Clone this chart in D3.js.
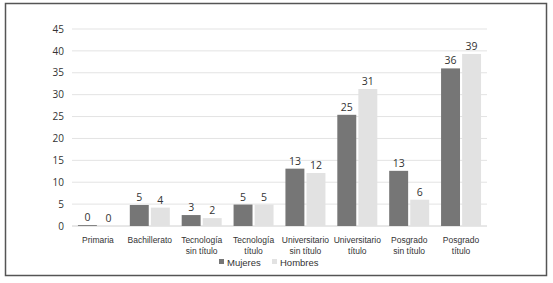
<!DOCTYPE html>
<html><head><meta charset="utf-8">
<script src="https://cdn.jsdelivr.net/npm/d3@7"></script>
<style>body{margin:0;background:#fff}</style>
</head><body>
<svg id="c" width="553" height="283"></svg>
<script>
const categories = [["Primaria"],["Bachillerato"],["Tecnología","sin título"],["Tecnología","título"],["Universitario","sin título"],["Universitario","título"],["Posgrado","sin título"],["Posgrado","título"]];
const mujeres = [0.2, 4.8, 2.5, 4.9, 13.1, 25.4, 12.6, 36.0];
const hombres = [0.0, 4.2, 1.8, 4.9, 12.1, 31.3, 6.0, 39.3];
const mujeresLabels = ["0","5","3","5","13","25","13","36"];
const hombresLabels = ["0","4","2","5","12","31","6","39"];
const yTicks = [0,5,10,15,20,25,30,35,40,45];
const seriesNames = ["Mujeres","Hombres"];
const colors = ["#767676","#e2e2e2"];

const svg = d3.select("#c");
svg.append("rect").attr("x",5.5).attr("y",3.5).attr("width",541).attr("height",272)
  .attr("fill","#fff").attr("stroke","#555").attr("stroke-width",1.5);

const x = d3.scaleBand().domain(d3.range(categories.length)).range([72,487]);
const y = d3.scaleLinear().domain([0,45]).range([226,29]);
const sub = d3.scaleBand().domain([0,1]).range([-20,20]).paddingInner(0.1);

svg.append("g").selectAll("line").data(yTicks).join("line")
  .attr("x1",72).attr("x2",487).attr("y1",d=>y(d)).attr("y2",d=>y(d))
  .attr("stroke",d=>d===0?"#d0d0d0":"#e3e3e3").attr("stroke-width",1);

const yAxis = d3.axisLeft(y).tickValues(yTicks).tickSize(0).tickPadding(8);
const ga = svg.append("g").attr("transform","translate(72,0)").call(yAxis);
ga.select(".domain").remove();
ga.selectAll("text").attr("font-family","Open Sans, sans-serif").attr("font-size",10).attr("fill","#333");

const series = [mujeres, hombres];
const labels = [mujeresLabels, hombresLabels];
series.forEach((vals,s)=>{
  const g = svg.append("g");
  g.selectAll("rect").data(vals).join("rect")
    .attr("x",(d,i)=>x(i)+x.bandwidth()/2+sub(s))
    .attr("width",sub.bandwidth())
    .attr("y",d=>y(d)).attr("height",d=>y(0)-y(d))
    .attr("fill",colors[s]);
  g.selectAll("text").data(vals).join("text")
    .attr("x",(d,i)=>x(i)+x.bandwidth()/2+sub(s)+sub.bandwidth()/2)
    .attr("y",d=>y(d)-4)
    .attr("text-anchor","middle")
    .attr("font-family","Open Sans, sans-serif").attr("font-size",10.5).attr("fill","#333")
    .text((d,i)=>labels[s][i]);
});

const gx = svg.append("g");
categories.forEach((lines,i)=>{
  const t = gx.append("text").attr("x",x(i)+x.bandwidth()/2).attr("y",243)
    .attr("text-anchor","middle").attr("font-family","Liberation Sans, Arial, sans-serif")
    .attr("font-size",8.5).attr("fill","#333");
  lines.forEach((l,k)=>t.append("tspan").attr("x",x(i)+x.bandwidth()/2).attr("dy",k===0?0:10.5).text(l));
});

const legX = [219, 272];
seriesNames.forEach((n,s)=>{
  svg.append("rect").attr("x",legX[s]).attr("y",259).attr("width",5).attr("height",5).attr("fill",colors[s]);
  svg.append("text").attr("x",legX[s]+8).attr("y",266)
    .attr("font-family","Liberation Sans, Arial, sans-serif").attr("font-size",9.5).attr("fill","#333").text(n);
});
</script>
</body></html>
